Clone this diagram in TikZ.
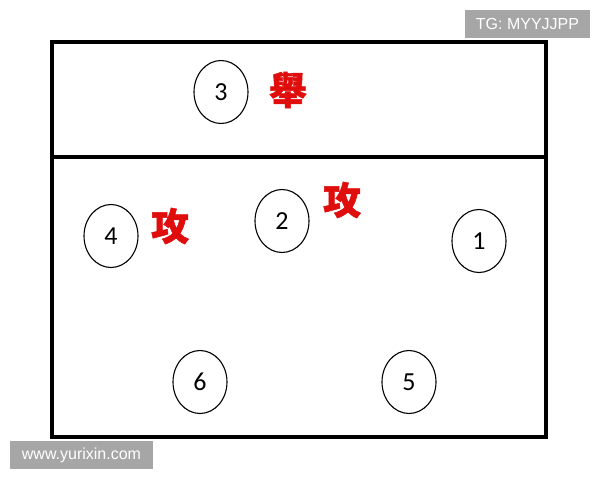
\documentclass[tikz,border=0pt]{standalone}
\usepackage{fontspec}
\usepackage{tikz}
\usetikzlibrary{shapes.geometric, positioning}
\setmainfont{Carlito}
\newfontfamily\markfont{Liberation Sans}
\newfontfamily\cjk[BoldFeatures={FakeBold=1.5}]{Noto Sans CJK TC}
\definecolor{red1}{rgb}{0.88,0.05,0.05}
\definecolor{gray1}{rgb}{0.65,0.65,0.65}

\begin{document}
\begin{tikzpicture}[x=1pt,y=-1pt,
                    player/.style={ellipse,draw,line width=1.1pt,minimum width=54pt,
                                   minimum height=63pt,inner sep=0pt,font=\fontsize{26}{26}\selectfont},
                    call/.style={text=red1,font=\cjk\bfseries\fontsize{38}{38}\selectfont,inner sep=0pt},
                    tag/.style={fill=gray1,text=white,font=\markfont\fontsize{16}{16}\selectfont,
                                inner sep=0pt,minimum height=28pt}]
  \useasboundingbox (0,0) rectangle (600,480);

  % court
  \draw[line width=4pt] (52,42) rectangle (546,437);
  \draw[line width=4pt] (52,157) -- (546,157);

  % players
  \node[player]         (p3) at (221, 92)   {3};
  \node[player]         (p4) at (111,236)   {4};
  \node[player]         (p2) at (282,221)   {2};
  \node[player]         (p1) at (479,241)   {1};
  \node[player]         (p6) at (200,382)   {6};
  \node[player]         (p5) at (409,382)   {5};

  % roles
  \node[call]           (set)  at (288, 90)  {舉};
  \node[call]           (atk1) at (170,226)  {攻};
  \node[call]           (atk2) at (342,200)  {攻};

  % watermarks
  \node[tag,minimum width=125pt] (tg)  at (527.5,24)  {TG: MYYJJPP};
  \node[tag,minimum width=143pt] (web) at (81.5,455)  {www.yurixin.com};
\end{tikzpicture}
\end{document}
